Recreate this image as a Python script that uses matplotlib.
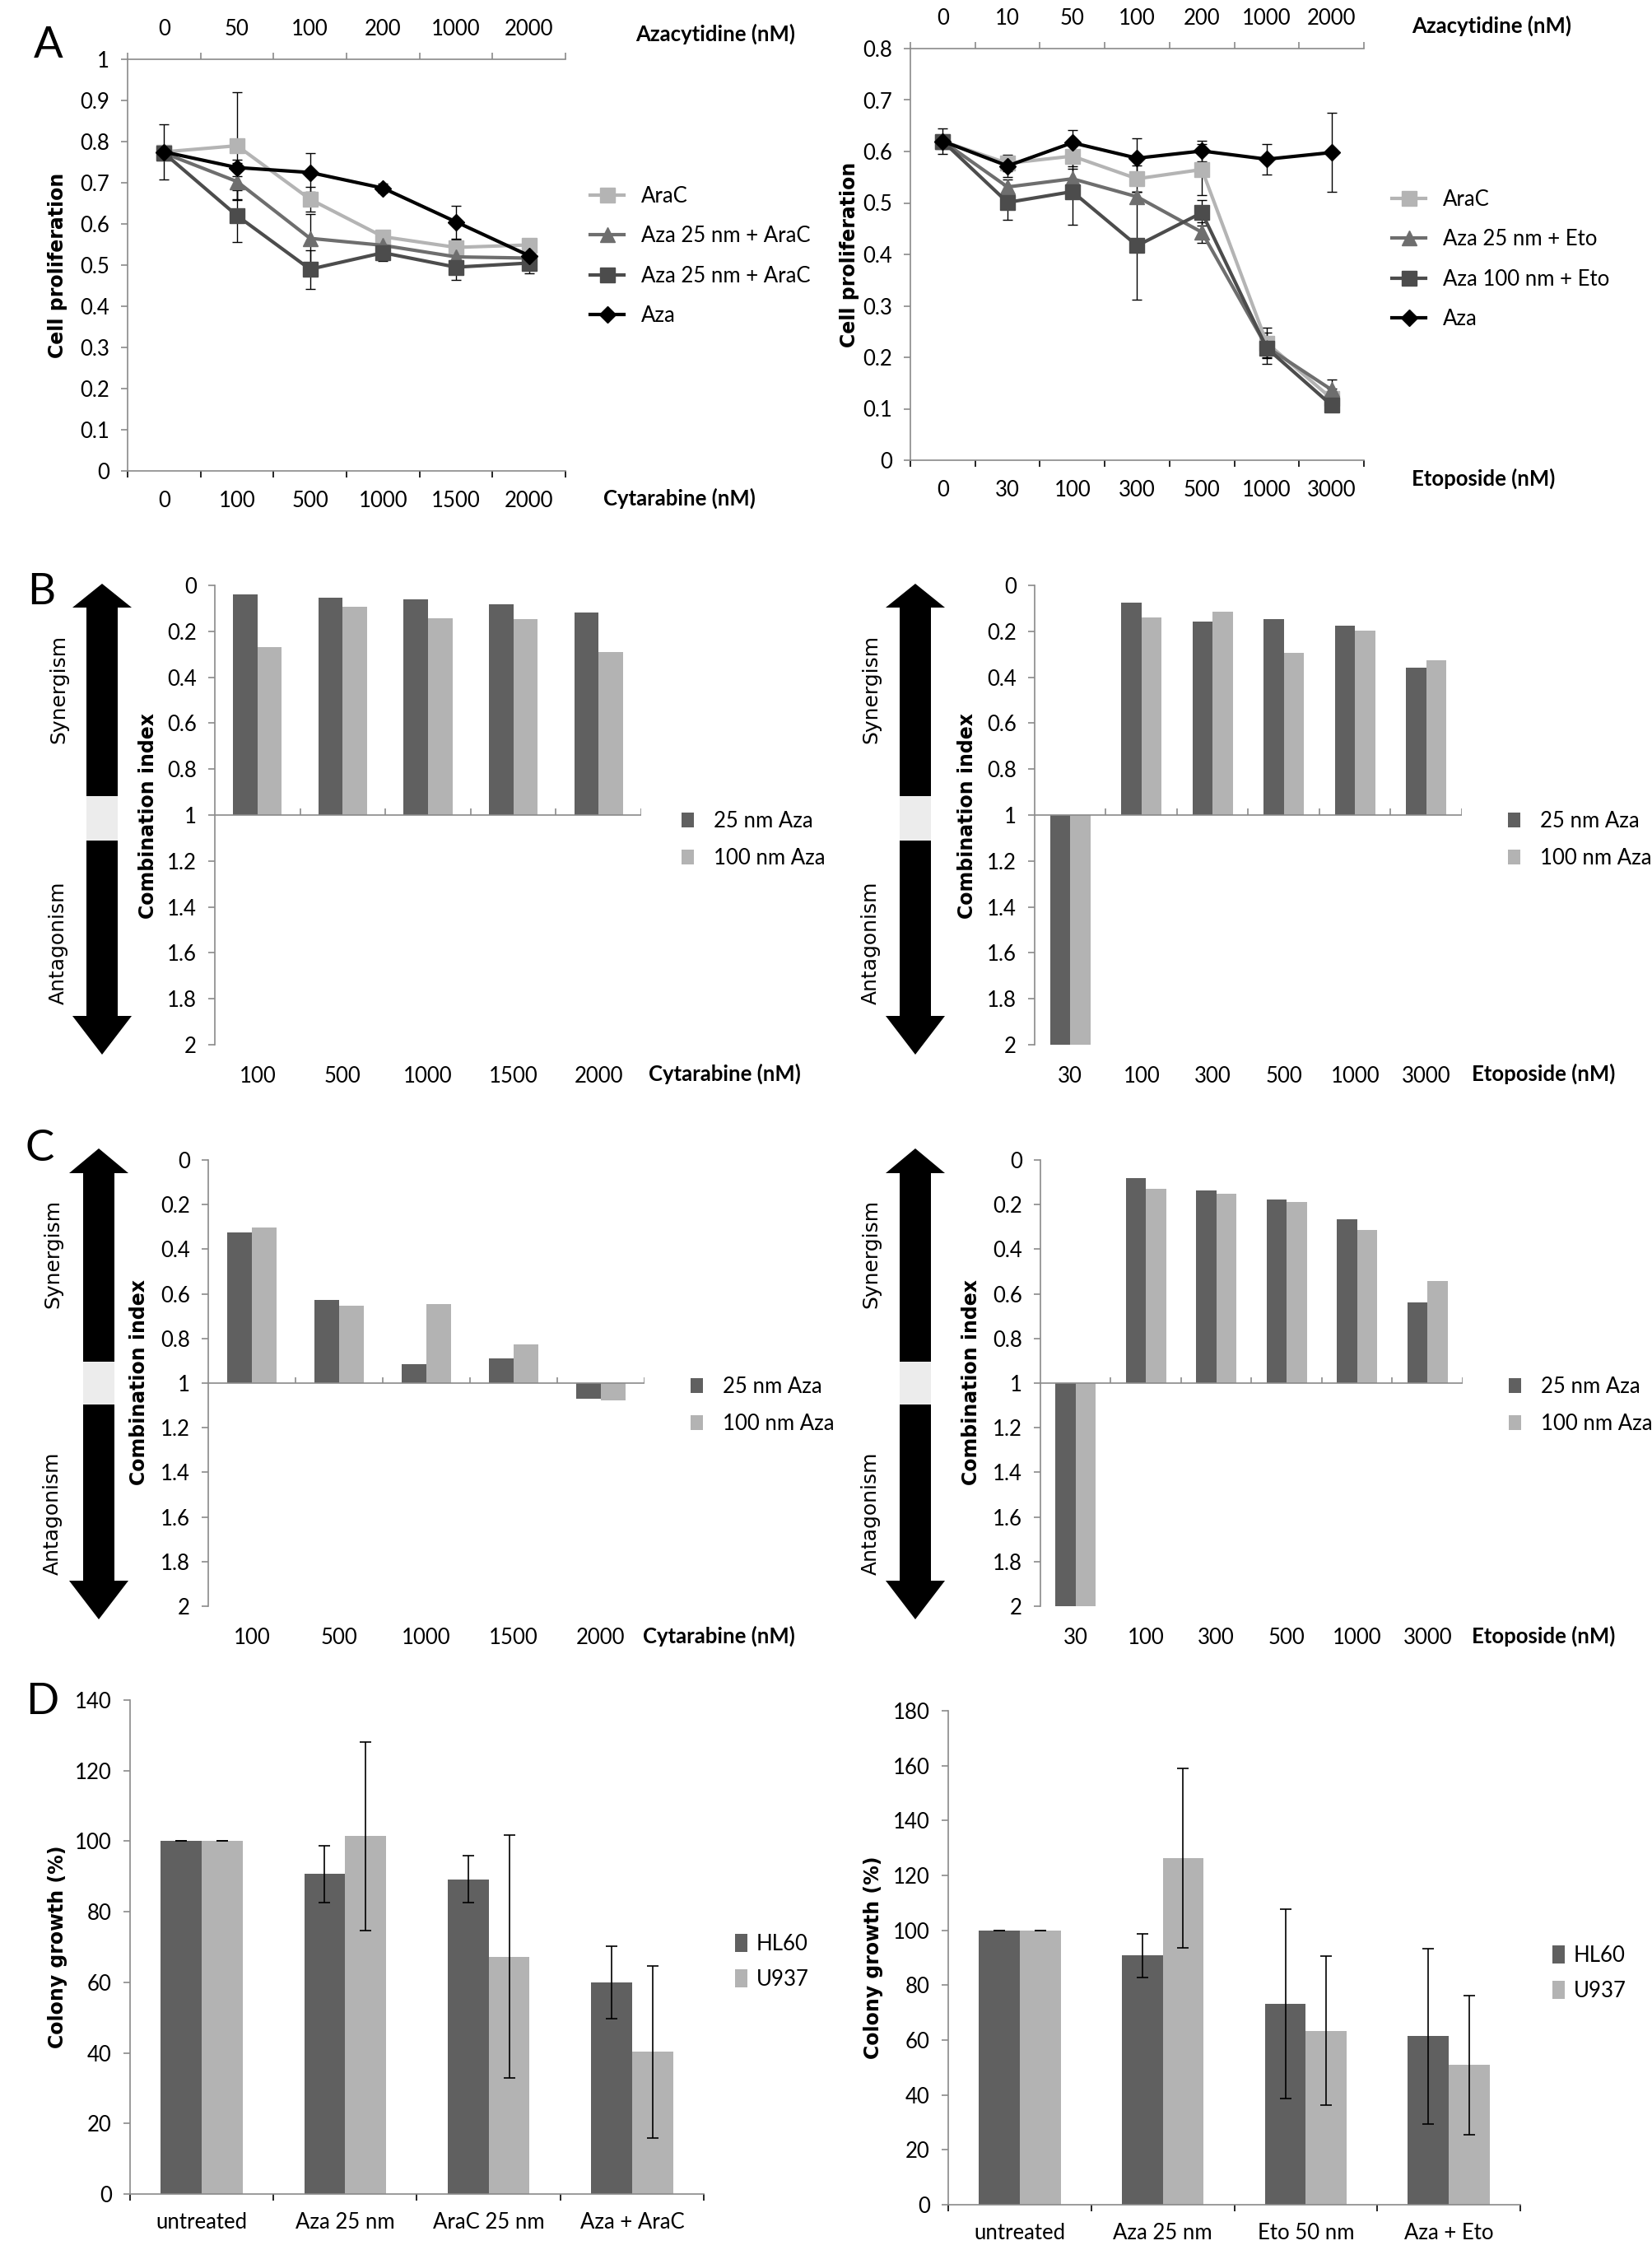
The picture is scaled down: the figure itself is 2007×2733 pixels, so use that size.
import numpy as np
import matplotlib
matplotlib.use("Agg")
import matplotlib.pyplot as plt
from matplotlib.patches import Polygon, Rectangle
from matplotlib.ticker import FuncFormatter

# ---------------- DATA ----------------
# A (left): cell proliferation, cytarabine
cyt_doses = ['0', '100', '500', '1000', '1500', '2000']
aza_doses_cyt = ['0', '50', '100', '200', '1000', '2000']
araC_cyt = [0.775, 0.79, 0.66, 0.569, 0.543, 0.549]
araC_cyt_err = [0.067, 0.13, 0.03, 0.01, 0.02, 0.015]
aza25_cyt = [0.772, 0.703, 0.565, 0.548, 0.52, 0.517]
aza25_cyt_err = [0.0, 0.045, 0.06, 0.01, 0.01, 0.01]
aza25b_cyt = [0.772, 0.62, 0.49, 0.53, 0.495, 0.505]
aza25b_cyt_err = [0.0, 0.063, 0.047, 0.02, 0.03, 0.025]
aza_cyt = [0.775, 0.737, 0.725, 0.687, 0.605, 0.523]
aza_cyt_err = [0.0, 0.02, 0.047, 0.01, 0.04, 0.015]

# A (right): cell proliferation, etoposide
eto_doses = ['0', '30', '100', '300', '500', '1000', '3000']
aza_doses_eto = ['0', '10', '50', '100', '200', '1000', '2000']
araC_eto = [0.62, 0.577, 0.591, 0.547, 0.565, 0.228, 0.12]
araC_eto_err = [0.025, 0.015, 0.02, 0.025, 0.05, 0.03, 0.02]
aza25_eto = [0.62, 0.531, 0.547, 0.512, 0.443, 0.22, 0.137]
aza25_eto_err = [0.0, 0.015, 0.02, 0.01, 0.02, 0.02, 0.02]
aza100_eto = [0.62, 0.501, 0.522, 0.417, 0.481, 0.218, 0.107]
aza100_eto_err = [0.0, 0.033, 0.065, 0.105, 0.025, 0.03, 0.01]
aza_eto = [0.62, 0.572, 0.617, 0.587, 0.601, 0.585, 0.598]
aza_eto_err = [0.0, 0.022, 0.025, 0.038, 0.02, 0.03, 0.077]

# B / C: combination index
ci_cyt_cats = ['100', '500', '1000', '1500', '2000']
ci_eto_cats = ['30', '100', '300', '500', '1000', '3000']
b_cyt_25 = [0.039, 0.054, 0.062, 0.082, 0.118]
b_cyt_100 = [0.269, 0.093, 0.143, 0.148, 0.292]
b_eto_25 = [2.0, 0.076, 0.158, 0.146, 0.174, 0.36]
b_eto_100 = [2.0, 0.138, 0.113, 0.293, 0.197, 0.326]
c_cyt_25 = [0.325, 0.626, 0.916, 0.888, 1.069]
c_cyt_100 = [0.301, 0.654, 0.646, 0.825, 1.077]
c_eto_25 = [2.0, 0.081, 0.137, 0.178, 0.265, 0.639]
c_eto_100 = [2.0, 0.13, 0.153, 0.188, 0.313, 0.542]

# D: colony growth
d_cyt_cats = ['untreated', 'Aza 25 nm', 'AraC 25 nm', 'Aza + AraC']
hl60_cyt = [100, 90.7, 89.2, 60.0]
hl60_cyt_err = [0, 8.0, 6.6, 10.3]
u937_cyt = [100, 101.4, 67.3, 40.3]
u937_cyt_err = [0, 26.7, 34.5, 24.4]
d_eto_cats = ['untreated', 'Aza 25 nm', 'Eto 50 nm', 'Aza + Eto']
hl60_eto = [100, 90.8, 73.2, 61.4]
hl60_eto_err = [0, 8.0, 34.6, 32.0]
u937_eto = [100, 126.3, 63.4, 50.9]
u937_eto_err = [0, 32.8, 27.2, 25.3]

# ---------------- STYLE ----------------
W, H = 2008, 2733
AXC = '#8a8a8a'
DARK = '#606060'
LIGHT = '#b3b3b3'
FS = 18.5
LAB_FS = 17
plt.rcParams['font.family'] = ['Lato', 'DejaVu Sans']

fig = plt.figure(figsize=(W / 100, H / 100), dpi=100)


def add_ax(x0, y0, x1, y1):
    return fig.add_axes([x0 / W, 1 - y1 / H, (x1 - x0) / W, (y1 - y0) / H])


def fx(x):
    return x / W


def fy(y):
    return 1 - y / H


def ftext(x, y, s, **kw):
    fig.text(fx(x), fy(y), s, **kw)


def base_style(ax):
    for s in ['right', 'top']:
        ax.spines[s].set_visible(False)
    for s in ['left', 'bottom']:
        ax.spines[s].set_color(AXC)
        ax.spines[s].set_linewidth(1.2)
    ax.tick_params(axis='y', colors=AXC, labelcolor='black', labelsize=FS,
                   length=6, width=1.2, pad=10)
    ax.tick_params(axis='x', colors=AXC, labelcolor='black', labelsize=FS)
    ax.yaxis.set_major_formatter(FuncFormatter(lambda v, p: f'{v:g}'))


def legend_at(ax, x, yc, **kw):
    ax.legend(loc='center left', bbox_to_anchor=(fx(x), fy(yc)),
              bbox_transform=fig.transFigure, frameon=False, borderpad=0,
              borderaxespad=0, fontsize=FS, **kw)


# ---------------- A ----------------
def prolif_panel(box, bottom_labels, top_labels, series, ymax, ystep, leg):
    ax = add_ax(*box)
    base_style(ax)
    x = np.arange(len(bottom_labels))
    for label, vals, errs, color, marker, ms in series:
        vals = np.asarray(vals)
        errs = np.asarray(errs)
        ax.plot(x, vals, color=color, lw=3, marker=marker, ms=ms,
                label=label, zorder=3)
        m = errs > 0
        ax.errorbar(x[m], vals[m], yerr=errs[m], fmt='none', ecolor='black',
                    elinewidth=1, capsize=4, capthick=1, zorder=2)
    ax.set_xlim(-0.5, len(x) - 0.5)
    ax.set_ylim(0, ymax)
    ax.set_yticks(np.arange(0, ymax + 1e-9, ystep))
    bounds = np.arange(len(x) + 1) - 0.5
    ax.set_xticks(x, bottom_labels)
    ax.set_xticks(bounds, minor=True)
    ax.tick_params(axis='x', which='major', length=0, pad=17)
    ax.tick_params(axis='x', which='minor', length=6, width=1.2, direction='out')
    sec = ax.secondary_xaxis('top')
    sec.set_xticks(x, top_labels)
    sec.set_xticks(bounds, minor=True)
    sec.tick_params(axis='x', which='major', length=0, pad=17, labelsize=FS)
    sec.tick_params(axis='x', which='minor', length=6, width=1.2, colors=AXC)
    for s in sec.spines.values():
        s.set_color(AXC)
        s.set_linewidth(1.2)
    legend_at(ax, leg[0], leg[1], handlelength=1.6, handletextpad=0.8,
              labelspacing=0.9)
    return ax


prolif_panel((155, 72, 687, 572), cyt_doses, aza_doses_cyt, [
    ('AraC', araC_cyt, araC_cyt_err, '#b4b4b4', 's', 13),
    ('Aza 25 nm + AraC', aza25_cyt, aza25_cyt_err, '#6e6e6e', '^', 13),
    ('Aza 25 nm + AraC', aza25b_cyt, aza25b_cyt_err, '#4c4c4c', 's', 13),
    ('Aza', aza_cyt, aza_cyt_err, 'black', 'D', 10),
], 1.0, 0.1, (717, 311))

prolif_panel((1106, 59, 1657, 559), eto_doses, aza_doses_eto, [
    ('AraC', araC_eto, araC_eto_err, '#b4b4b4', 's', 13),
    ('Aza 25 nm + Eto', aza25_eto, aza25_eto_err, '#6e6e6e', '^', 13),
    ('Aza 100 nm + Eto', aza100_eto, aza100_eto_err, '#4c4c4c', 's', 13),
    ('Aza', aza_eto, aza_eto_err, 'black', 'D', 10),
], 0.8, 0.1, (1691, 315))

ftext(772, 41, 'Azacytidine (nM)', fontsize=FS, fontweight='bold', va='center')
ftext(733, 605, 'Cytarabine (nM)', fontsize=FS, fontweight='bold', va='center')
ftext(1715, 31, 'Azacytidine (nM)', fontsize=FS, fontweight='bold', va='center')
ftext(1715, 581, 'Etoposide (nM)', fontsize=FS, fontweight='bold', va='center')
ftext(70, 322, 'Cell proliferation', fontsize=LAB_FS, fontweight='bold',
      family='DejaVu Sans', rotation=90, ha='center', va='center')
ftext(1032, 309, 'Cell proliferation', fontsize=LAB_FS, fontweight='bold',
      family='DejaVu Sans', rotation=90, ha='center', va='center')


# ---------------- B / C ----------------
def ci_panel(box, cats, v25, v100, leg):
    ax = add_ax(*box)
    base_style(ax)
    ax.spines['bottom'].set_visible(False)
    x = np.arange(len(cats))
    w = 0.286
    ax.bar(x - w / 2, np.asarray(v25) - 1, w, bottom=1, color=DARK,
           label='25 nm Aza')
    ax.bar(x + w / 2, np.asarray(v100) - 1, w, bottom=1, color=LIGHT,
           label='100 nm Aza')
    ax.set_xlim(-0.5, len(x) - 0.5)
    ax.set_ylim(2, 0)
    ax.set_yticks(np.arange(0, 2.0001, 0.2))
    ax.set_xticks(x, cats)
    ax.tick_params(axis='x', length=0, pad=19)
    ax.axhline(1, color=AXC, lw=1.2, zorder=3)
    ax.vlines(np.arange(1, len(x) + 1) - 0.5, 0.973, 1, color=AXC, lw=1.2,
              zorder=3)
    legend_at(ax, leg[0], leg[1], handlelength=0.6, handleheight=0.7,
              handletextpad=0.9, labelspacing=0.8)
    return ax


def double_arrow(cx, half_shaft, half_head, top, top_base, bot_base, bot,
                 gap0, gap1):
    pts = [(cx, top), (cx + half_head, top_base), (cx + half_shaft, top_base),
           (cx + half_shaft, bot_base), (cx + half_head, bot_base), (cx, bot),
           (cx - half_head, bot_base), (cx - half_shaft, bot_base),
           (cx - half_shaft, top_base), (cx - half_head, top_base)]
    fig.add_artist(Polygon([(fx(a), fy(b)) for a, b in pts], closed=True,
                           facecolor='black', edgecolor='none',
                           transform=fig.transFigure))
    fig.add_artist(Rectangle((fx(cx - half_shaft), fy(gap1)),
                             2 * half_shaft / W, (gap1 - gap0) / H,
                             facecolor='#ececec', edgecolor='none',
                             transform=fig.transFigure))


def ci_side(x_arrow, x_text, x_label, top, top_base, bot_base, bot, gap0, gap1,
            syn_y, ant_y, lab_y):
    double_arrow(x_arrow, 19, 36, top, top_base, bot_base, bot, gap0, gap1)
    ftext(x_text, syn_y, 'Synergism', fontsize=18, family='DejaVu Sans',
          rotation=90, ha='center', va='center')
    ftext(x_text, ant_y, 'Antagonism', fontsize=18, family='DejaVu Sans',
          rotation=90, ha='center', va='center')
    ftext(x_label, lab_y, 'Combination index', fontsize=LAB_FS,
          fontweight='bold', family='DejaVu Sans', rotation=90,
          ha='center', va='center')


ci_panel((261, 711, 779, 1269), ci_cyt_cats, b_cyt_25, b_cyt_100, (828, 1020))
ci_panel((1257, 711, 1776, 1269), ci_eto_cats, b_eto_25, b_eto_100, (1832, 1020))
ci_panel((253, 1409, 783, 1951), ci_cyt_cats, c_cyt_25, c_cyt_100, (839, 1707))
ci_panel((1264, 1409, 1777, 1951), ci_eto_cats, c_eto_25, c_eto_100, (1833, 1707))

ci_side(124, 71, 180, 709, 738, 1234, 1281, 967, 1021, 837, 1145, 991)
ci_side(1112, 1058, 1175, 709, 738, 1234, 1281, 967, 1021, 837, 1145, 991)
ci_side(120, 64, 169, 1395, 1425, 1920, 1967, 1654, 1706, 1523, 1838, 1679)
ci_side(1112, 1058, 1180, 1395, 1425, 1920, 1967, 1654, 1706, 1523, 1838, 1679)

ftext(788, 1304, 'Cytarabine (nM)', fontsize=FS, fontweight='bold', va='center')
ftext(1788, 1304, 'Etoposide (nM)', fontsize=FS, fontweight='bold', va='center')
ftext(781, 1987, 'Cytarabine (nM)', fontsize=FS, fontweight='bold', va='center')
ftext(1788, 1987, 'Etoposide (nM)', fontsize=FS, fontweight='bold', va='center')


# ---------------- D ----------------
def colony_panel(box, cats, hl, hl_err, u9, u9_err, ymax, leg, lab_x):
    ax = add_ax(*box)
    base_style(ax)
    x = np.arange(len(cats))
    w = 0.286
    ax.bar(x - w / 2, hl, w, color=DARK, label='HL60')
    ax.bar(x + w / 2, u9, w, color=LIGHT, label='U937')
    ax.errorbar(x - w / 2, hl, yerr=hl_err, fmt='none', ecolor='black',
                elinewidth=1.2, capsize=5, capthick=1.2)
    ax.errorbar(x + w / 2, u9, yerr=u9_err, fmt='none', ecolor='black',
                elinewidth=1.2, capsize=5, capthick=1.2)
    ax.set_xlim(-0.5, len(x) - 0.5)
    ax.set_ylim(0, ymax)
    ax.set_yticks(np.arange(0, ymax + 1, 20))
    ax.set_xticks(x, cats)
    ax.set_xticks(np.arange(len(x) + 1) - 0.5, minor=True)
    ax.tick_params(axis='x', which='major', length=0, pad=16)
    ax.tick_params(axis='x', which='minor', length=6, width=1.2, direction='out')
    legend_at(ax, leg[0], leg[1], handlelength=0.6, handleheight=0.9,
              handletextpad=0.4, labelspacing=0.7)
    y0, y1 = box[1], box[3]
    ftext(lab_x, (y0 + y1) / 2, 'Colony growth (%)', fontsize=LAB_FS,
          fontweight='bold', family='DejaVu Sans', rotation=90,
          ha='center', va='center')
    return ax


colony_panel((158, 2065, 855, 2665), d_cyt_cats, hl60_cyt, hl60_cyt_err,
             u937_cyt, u937_cyt_err, 140, (893, 2383), 70)
colony_panel((1152, 2078, 1847, 2678), d_eto_cats, hl60_eto, hl60_eto_err,
             u937_eto, u937_eto_err, 180, (1886, 2397), 1061)

# panel letters
for letter, (lx, ly) in zip('ABCD', [(59, 55), (50, 720), (48, 1395), (51, 2068)]):
    ftext(lx, ly, letter, fontsize=38, ha='center', va='center')

fig.savefig('out.png', dpi=100, facecolor='white')
